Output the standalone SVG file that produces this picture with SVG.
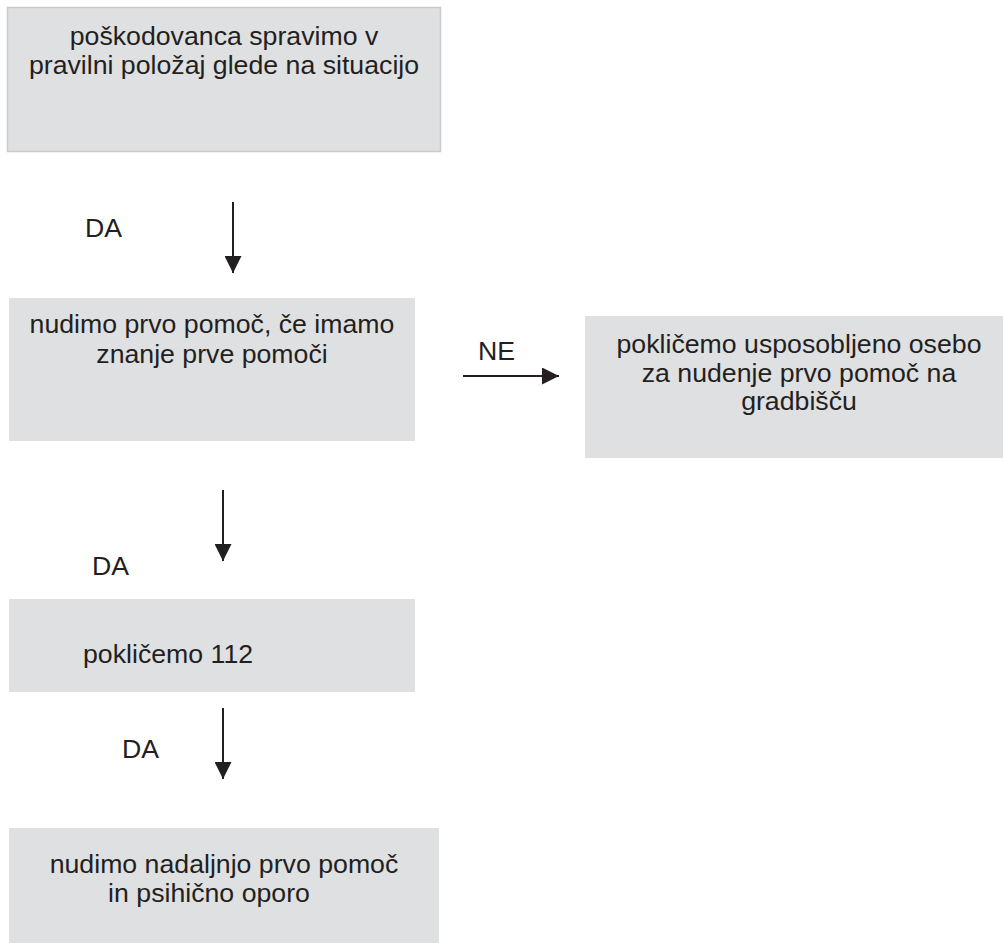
<svg xmlns="http://www.w3.org/2000/svg" width="1003" height="943" viewBox="0 0 1003 943">
<style>
.box{fill:#dfe0e2;}
.b1{stroke:#c9cacc;stroke-width:1.5;}
.t{font-family:"Liberation Sans",Arial,sans-serif;font-size:26.7px;fill:#231f20;}
.c{text-anchor:middle;}
.conn{stroke:#231f20;stroke-width:2;fill:none;marker-end:url(#ah);}
</style>
<defs>
<marker id="ah" markerUnits="userSpaceOnUse" markerWidth="17" markerHeight="17" viewBox="0 0 16 16" refX="16" refY="8" orient="auto">
<path d="M0,0 L16,8 L0,16 Z" fill="#231f20"/>
</marker>
</defs>
<rect width="1003" height="943" fill="#ffffff"/>
<g id="n1">
<rect class="box b1" x="7.5" y="7.5" width="433" height="144"/>
<text class="t c" x="224" y="45">poškodovanca spravimo v</text>
<text class="t c" x="224" y="74">pravilni položaj glede na situacijo</text>
</g>
<g id="n2">
<rect class="box" x="9" y="298" width="406" height="143"/>
<text class="t c" x="212" y="333">nudimo prvo pomoč, če imamo</text>
<text class="t c" x="212" y="363">znanje prve pomoči</text>
</g>
<g id="n3">
<rect class="box" x="585" y="316" width="418" height="142"/>
<text class="t c" x="799" y="353">pokličemo usposobljeno osebo</text>
<text class="t c" x="799" y="382">za nudenje prvo pomoč na</text>
<text class="t c" x="799" y="410">gradbišču</text>
</g>
<g id="n4">
<rect class="box" x="9" y="599" width="406" height="93"/>
<text class="t" x="83" y="663">pokličemo 112</text>
</g>
<g id="n5">
<rect class="box" x="9" y="828" width="430" height="115"/>
<text class="t c" x="224" y="873">nudimo nadaljnjo prvo pomoč</text>
<text class="t c" x="209" y="902">in psihično oporo</text>
</g>
<g id="connectors">
<line class="conn" x1="233" y1="202" x2="233" y2="273"/>
<line class="conn" x1="463" y1="376" x2="559" y2="376"/>
<line class="conn" x1="223" y1="490" x2="223" y2="561"/>
<line class="conn" x1="223" y1="708" x2="223" y2="779"/>
</g>
<g id="labels">
<text class="t" x="85" y="237">DA</text>
<text class="t" x="478" y="360">NE</text>
<text class="t" x="92" y="575">DA</text>
<text class="t" x="122" y="758">DA</text>
</g>
</svg>
